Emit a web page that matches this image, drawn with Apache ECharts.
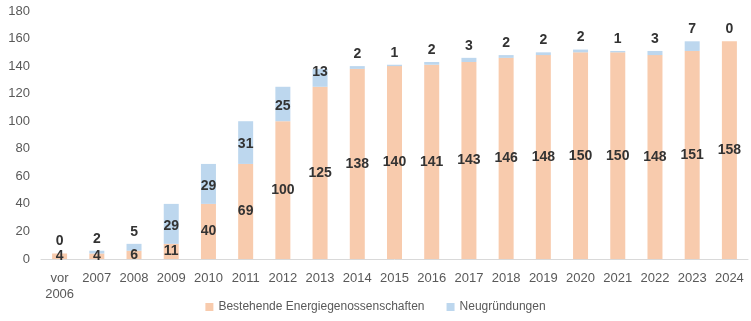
<!DOCTYPE html>
<html><head><meta charset="utf-8">
<script src="https://cdn.jsdelivr.net/npm/echarts@6/dist/echarts.min.js"></script>
<style>html,body{margin:0;padding:0;background:#fff}#c{width:751px;height:321px}</style>
</head><body><div id="c"></div>
<script>
const categories = ['vor\n2006','2007','2008','2009','2010','2011','2012','2013','2014','2015','2016','2017','2018','2019','2020','2021','2022','2023','2024'];
const bestehend = [4,4,6,11,40,69,100,125,138,140,141,143,146,148,150,150,148,151,158];
const neu = [0,2,5,29,29,31,25,13,2,1,2,3,2,2,2,1,3,7,0];
const seriesNames = ['Bestehende Energiegenossenschaften','Neugründungen'];
const FONT = 'Liberation Sans';
const labelStyle = {show:true, fontFamily:FONT, fontSize:14, fontWeight:'bold', color:'#333'};
const neuData = neu.map(v => {
  let lab;
  if (v < 10) lab = {position:'top', distance:5};
  else if (v < 20) lab = {position:'inside', offset:[0,-6]};
  else lab = {position:'inside', offset:[0,2]};
  return {value:v, label:lab};
});
const chart = echarts.init(document.getElementById('c'), null, {renderer:'canvas'});
chart.setOption({
  animation:false,
  textStyle:{fontFamily:FONT},
  grid:{left:41, right:3, top:11, bottom:62},
  legend:{bottom:3, left:'center', itemWidth:8, itemHeight:8, itemGap:22, icon:'rect',
    textStyle:{fontFamily:FONT, fontSize:12, color:'#595959'}, data:seriesNames},
  xAxis:{type:'category', data:categories,
    axisLine:{lineStyle:{color:'#D9D9D9', width:1}}, axisTick:{show:false},
    axisLabel:{fontFamily:FONT, fontSize:13, color:'#595959', margin:11, lineHeight:16, interval:0}},
  yAxis:{type:'value', min:0, max:180, interval:20,
    splitLine:{show:false}, axisLine:{show:false}, axisTick:{show:false},
    axisLabel:{fontFamily:FONT, fontSize:13, color:'#595959', margin:11}},
  series:[
    {name:seriesNames[0], type:'bar', stack:'a', data:bestehend, barWidth:15,
      itemStyle:{color:'#F8CBAD'}, label:Object.assign({}, labelStyle, {position:'inside'})},
    {name:seriesNames[1], type:'bar', stack:'a', data:neuData, barWidth:15,
      itemStyle:{color:'#BDD7EE'}, label:Object.assign({}, labelStyle)}
  ]
});
</script></body></html>
